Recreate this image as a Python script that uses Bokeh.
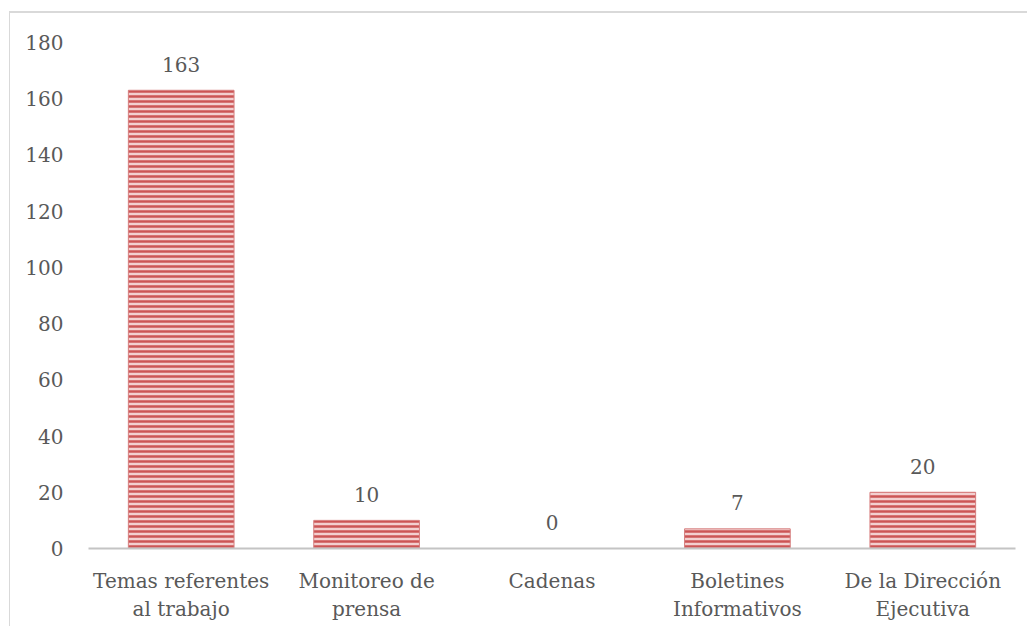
from bokeh.plotting import figure
from bokeh.models import ColumnDataSource, FactorRange, Range1d, FixedTicker
from bokeh.embed import file_html
from bokeh.resources import INLINE
from bokeh.core.properties import value

categories = ["Temas referentes\nal trabajo", "Monitoreo de\nprensa", "Cadenas",
              "Boletines\nInformativos", "De la Dirección\nEjecutiva"]
counts = [163, 10, 0, 7, 20]
y_ticks = [0, 20, 40, 60, 80, 100, 120, 140, 160, 180]

FONT = "DejaVu Serif"
TXT = "#595959"

src = ColumnDataSource(dict(cat=categories, val=counts, lbl=[str(v) for v in counts]))

p = figure(x_range=FactorRange(*categories, range_padding=0), y_range=Range1d(0, 180),
           width=1018, height=615, output_backend="svg", toolbar_location=None,
           min_border_left=78, min_border_right=13, min_border_top=29, min_border_bottom=80)
p.styles = {"border-left": "1px solid #d9d9d9", "border-top": "2px solid #d9d9d9",
            "margin-left": "9px", "margin-top": "11px"}
p.outline_line_color = None
p.xgrid.grid_line_color = None
p.ygrid.grid_line_color = None
p.background_fill_color = "white"
p.border_fill_color = "white"

p.vbar(x="cat", top="val", width=0.57, source=src,
       fill_color="#f3cfcf", line_color="#d67f7f", line_width=1,
       hatch_pattern="horizontal_line", hatch_color="#cc5555",
       hatch_scale=5, hatch_weight=2.5)

p.text(x="cat", y="val", text="lbl", source=src, y_offset=-26,
       text_align="center", text_baseline="middle",
       text_font=value(FONT), text_font_size="20px", text_color=TXT)

p.yaxis.ticker = FixedTicker(ticks=y_ticks)
p.yaxis.axis_line_color = None
p.yaxis.major_tick_line_color = None
p.yaxis.minor_tick_line_color = None
p.yaxis.major_label_standoff = 19
p.yaxis.major_label_text_font = FONT
p.yaxis.major_label_text_font_size = "20px"
p.yaxis.major_label_text_color = TXT

p.xaxis.axis_line_color = "#c4c4c4"
p.xaxis.axis_line_width = 2
p.xaxis.major_tick_line_color = None
p.xaxis.minor_tick_line_color = None
p.xaxis.major_label_standoff = 14
p.xaxis.major_label_text_font = FONT
p.xaxis.major_label_text_font_size = "20px"
p.xaxis.major_label_text_color = TXT

open("out.html", "w").write(file_html(p, INLINE))
